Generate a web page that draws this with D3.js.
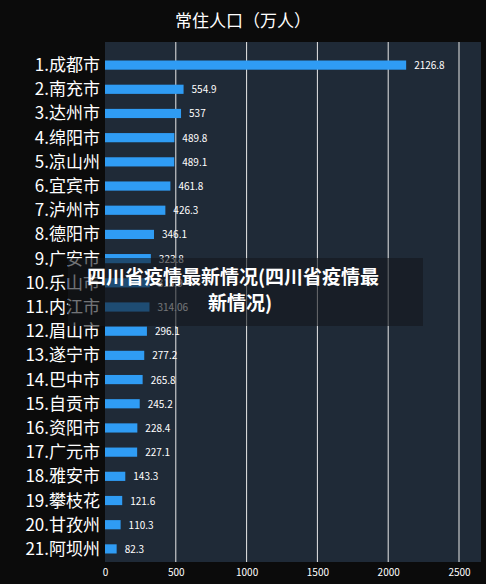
<!DOCTYPE html><html><head><meta charset="utf-8"><script src="https://cdn.jsdelivr.net/npm/d3@7"></script>
<style>body{margin:0;background:#0b0b0b}</style></head><body><svg id="c" width="486" height="584"></svg><script>
const categories=["1.成都市","2.南充市","3.达州市","4.绵阳市","5.凉山州","6.宜宾市","7.泸州市","8.德阳市","9.广安市","10.乐山市","11.内江市","12.眉山市","13.遂宁市","14.巴中市","15.自贡市","16.资阳市","17.广元市","18.雅安市","19.攀枝花","20.甘孜州","21.阿坝州"];
const values=[2126.8,554.9,537,489.8,489.1,461.8,426.3,346.1,323.8,315.9,314.06,296.1,277.2,265.8,245.2,228.4,227.1,143.3,121.6,110.3,82.3];
const tickValues=[0,500,1000,1500,2000,2500];
const title="常住人口（万人）";
const overlayLines=["四川省疫情最新情况(四川省疫情最","新情况)"];
const svg=d3.select("#c");const F="'Noto Sans CJK SC',sans-serif";
svg.append("rect").attr("width",486).attr("height",584).attr("fill","#0b0b0b");
const x=d3.scaleLinear().domain([0,2500]).range([105,459]);
const y=d3.scaleBand().domain(categories).range([53,561]).paddingInner(0.62).paddingOuter(0.31);
svg.append("rect").attr("x",105).attr("y",42).attr("width",376).attr("height",520).attr("fill","#1f2a37");
svg.append("g").selectAll("line").data(tickValues.slice(1)).join("line").attr("x1",d=>x(d)).attr("x2",d=>x(d)).attr("y1",42).attr("y2",562).attr("stroke","#e8e8e8").attr("stroke-width",1);
svg.append("text").attr("x",243).attr("y",27).attr("text-anchor","middle").attr("fill","#fff").attr("font-family",F).attr("font-size",17).text(title);
svg.append("g").selectAll("rect").data(values).join("rect").attr("x",x(0)).attr("y",(d,i)=>y(categories[i])).attr("height",y.bandwidth()).attr("width",d=>x(d)-x(0)).attr("fill","#2f9cf4");
svg.append("g").selectAll("text").data(values).join("text").attr("x",d=>x(d)+8).attr("y",(d,i)=>y(categories[i])+y.bandwidth()/2+4).attr("fill","#fff").attr("font-family",F).attr("font-size",10).text(d=>d);
svg.append("g").selectAll("text").data(categories).join("text").attr("x",100).attr("y",c=>y(c)+y.bandwidth()/2+6).attr("text-anchor","end").attr("fill","#fff").attr("font-family",F).attr("font-size",17).text(c=>c);
const ax=svg.append("g").attr("transform","translate(0,566)").call(d3.axisBottom(x).tickValues(tickValues).tickFormat(d3.format("d")).tickSize(0).tickPadding(3));
ax.select(".domain").remove();ax.selectAll("text").attr("fill","#fff").attr("font-size",10).attr("font-family",F);
svg.append("rect").attr("x",68).attr("y",258).attr("width",355).attr("height",68).attr("fill","rgba(20,24,28,0.6)");
svg.append("g").selectAll("text").data(overlayLines).join("text").attr("x",(d,i)=>i?240:233).attr("y",(d,i)=>284+i*26).attr("text-anchor","middle").attr("fill","#fff").attr("font-weight","bold").attr("font-family",F).attr("font-size",19).text(d=>d);
</script></body></html>
